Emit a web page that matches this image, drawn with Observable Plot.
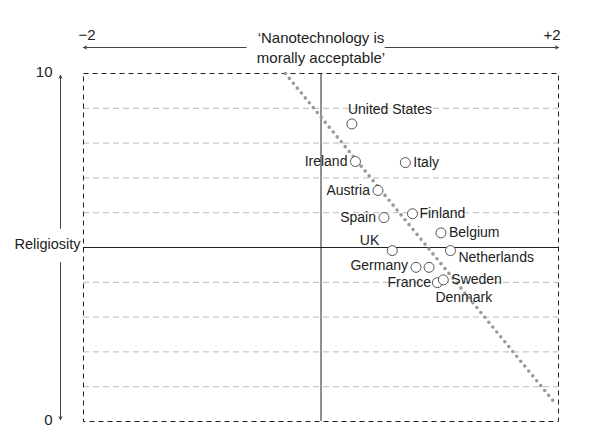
<!DOCTYPE html>
<html><head><meta charset="utf-8">
<script src="https://cdn.jsdelivr.net/npm/d3@7"></script>
<script src="https://cdn.jsdelivr.net/npm/@observablehq/plot@0.6"></script>
<style>body{margin:0;background:#fff}</style>
</head><body><div id="chart"></div>
<script>
const countries     = ["United States","Ireland","Italy","Austria","Spain","Finland","Belgium","UK","Netherlands","Germany","France","Denmark","Sweden"];
const acceptability = [0.26, 0.29, 0.71, 0.48, 0.53, 0.77, 1.01, 0.60, 1.09, 0.80, 0.91, 0.98, 1.03];
const religiosity   = [8.55, 7.47, 7.44, 6.64, 5.86, 5.97, 5.42, 4.91, 4.91, 4.43, 4.43, 3.99, 4.07];
const trendX = [-0.30, 1.98];
const trendY = [10, 0.49];
const xTicks = [-2, 2];
const xTickLabels = ["\u22122", "+2"];
const yTicks = [10, 0];
const yTickLabels = ["10", "0"];
const gridY = [1, 2, 3, 4, 6, 7, 8, 9];
const xTitleLines = ["\u2018Nanotechnology is", "morally acceptable\u2019"];
const yTitle = "Religiosity";

const data = countries.map((c, i) => ({name: c, x: acceptability[i], y: religiosity[i]}));
const trend = trendX.map((x, i) => ({x, y: trendY[i]}));

const FONT = "'Liberation Sans Narrow', 'Arial Narrow', sans-serif";
const TXT = "#222";

// label placement: [textAnchor, dx, dy]
const place = {
  "United States": ["start", -4, -14],
  "Ireland": ["end", -8, 0],
  "Italy": ["start", 8, 0],
  "Austria": ["end", -8, 0],
  "Spain": ["end", -8, 0],
  "Finland": ["start", 7, 0],
  "Belgium": ["start", 8, 0],
  "UK": ["end", -13, -10],
  "Netherlands": ["start", 8, 7],
  "Germany": ["end", -8, -2],
  "France": ["end", 2, 15],
  "Denmark": ["start", -2, 15],
  "Sweden": ["start", 8, 0]
};
const labelMarks = countries.map(n => Plot.text(data, {
  filter: d => d.name === n, x: "x", y: "y", text: "name",
  textAnchor: place[n][0], dx: place[n][1], dy: place[n][2],
  fontSize: 14, fill: TXT
}));

const chart = Plot.plot({
  width: 590, height: 448,
  marginLeft: 83, marginRight: 32, marginTop: 73, marginBottom: 27,
  x: {domain: [-2, 2], axis: null},
  y: {domain: [0, 10], axis: null},
  style: {fontFamily: FONT, fontSize: "14px", background: "#fff", color: TXT},
  marks: [
    Plot.ruleY(gridY, {stroke: "#bbb", strokeDasharray: "6,4", strokeWidth: 1}),
    Plot.ruleY([5], {stroke: "#222", strokeWidth: 1}),
    Plot.ruleX([0], {stroke: "#222", strokeWidth: 1}),
    Plot.frame({stroke: "#222", strokeDasharray: "5,4", strokeWidth: 1}),
    Plot.line(trend, {x: "x", y: "y", stroke: "#999", strokeWidth: 3.6, strokeDasharray: "0,6.3", strokeLinecap: "round"}),
    Plot.dot(data, {x: "x", y: "y", r: 5, fill: "#fff", stroke: "#555", strokeWidth: 1}),
    ...labelMarks,
    // top axis
    Plot.text(xTicks.slice(0, 1), {x: d => d, y: () => 10, text: () => xTickLabels[0], textAnchor: "start", dx: -5, dy: -38, fontSize: 15, fill: TXT}),
    Plot.text(xTicks.slice(1), {x: d => d, y: () => 10, text: () => xTickLabels[1], textAnchor: "end", dx: 2, dy: -38, fontSize: 15, fill: TXT}),
    Plot.arrow([{x1: -0.63, x2: -2}, {x1: 0.54, x2: 2}], {x1: "x1", x2: "x2", y1: () => 10, y2: () => 10, dy: -26, stroke: "#444", strokeWidth: 1, headLength: 5, headAngle: 50}),
    Plot.text([xTitleLines.join("\n")], {x: () => 0, y: () => 10, text: d => d, dy: -27, lineHeight: 1.35, fontSize: 15, fill: TXT}),
    // left axis
    Plot.text(yTicks, {x: () => -2, y: d => d, text: (d, i) => yTickLabels[i], textAnchor: "end", dx: -31, dy: -1, fontSize: 15, fill: TXT}),
    Plot.arrow([{y1: 5.55, y2: 9.95}, {y1: 4.57, y2: 0.05}], {x1: () => -2, x2: () => -2, y1: "y1", y2: "y2", dx: -23, stroke: "#444", strokeWidth: 1, headLength: 5, headAngle: 50}),
    Plot.text([yTitle], {x: () => -2, y: () => 5, text: d => d, dx: -36, dy: -3, fontSize: 14.5, fill: TXT})
  ]
});
document.getElementById("chart").appendChild(chart);
</script>
</body></html>
